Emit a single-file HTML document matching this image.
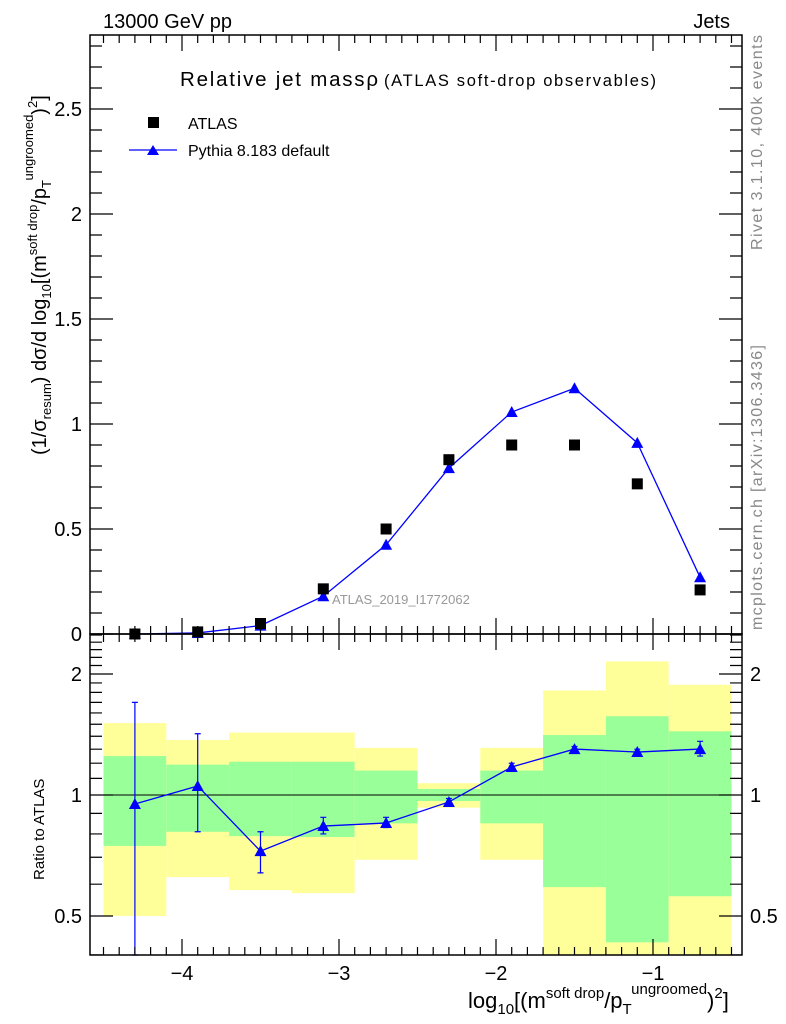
<!DOCTYPE html>
<html><head><meta charset="utf-8"><style>
body{margin:0;background:#fff}
svg{display:block;font-family:"Liberation Sans",sans-serif}
</style></head><body>
<svg id="c" width="786" height="1024" viewBox="0 0 786 1024">
<g id="bands"></g>
<g id="marks"></g>
<g id="axes"></g>
<text x="103" y="28" font-size="20">13000 GeV pp</text>
<text x="730" y="28" font-size="20" text-anchor="end">Jets</text>
<text x="180" y="86" font-size="20.5" textLength="198">Relative jet massρ</text>
<text x="384" y="86" font-size="16.5" textLength="272">(ATLAS soft-drop observables)</text>
<rect x="148" y="117" width="11" height="11" fill="#000"/>
<text x="188" y="129" font-size="16">ATLAS</text>
<line x1="129" y1="150" x2="177" y2="150" stroke="#00f" stroke-width="1.3"/>
<path d="M147,155 L153,145 L159,155 Z" fill="#00f"/>
<text x="188" y="156" font-size="16">Pythia 8.183 default</text>
<text x="332" y="604" font-size="13" fill="#999">ATLAS_2019_I1772062</text>
<text transform="translate(762,250) rotate(-90)" font-size="16" fill="#888" textLength="215">Rivet 3.1.10,  400k events</text>
<text transform="translate(762,630) rotate(-90)" font-size="16" fill="#888" textLength="285">mcplots.cern.ch [arXiv:1306.3436]</text>
<text transform="translate(46,455) rotate(-90)" font-size="20">(1/σ<tspan font-size="13" dy="5">resum</tspan><tspan dy="-5">) dσ/d log</tspan><tspan font-size="13" dy="5">10</tspan><tspan dy="-5">[(m</tspan><tspan font-size="13" dy="-9">soft drop</tspan><tspan dy="9">/p</tspan><tspan font-size="13" dy="5">T</tspan><tspan font-size="13" dy="-18">ungroomed</tspan><tspan dy="13">)</tspan><tspan font-size="13" dy="-9">2</tspan><tspan dy="9">]</tspan></text>
<text transform="translate(44,880) rotate(-90)" font-size="15">Ratio to ATLAS</text>
<text x="468" y="1008" font-size="22">log<tspan font-size="15" dy="6">10</tspan><tspan dy="-6">[(m</tspan><tspan font-size="15" dy="-10">soft drop</tspan><tspan dy="10">/p</tspan><tspan font-size="15" dy="6">T</tspan><tspan font-size="15" dy="-20">ungroomed</tspan><tspan dy="14">)</tspan><tspan font-size="15" dy="-10">2</tspan><tspan dy="10">]</tspan></text>
</svg>
<script>
const binLo=[-4.5,-4.1,-3.7,-3.3,-2.9,-2.5,-2.1,-1.7,-1.3,-0.9];
const binHi=[-4.1,-3.7,-3.3,-2.9,-2.5,-2.1,-1.7,-1.3,-0.9,-0.5];
const xCenters=[-4.3,-3.9,-3.5,-3.1,-2.7,-2.3,-1.9,-1.5,-1.1,-0.7];
const atlasVals=[0.0,0.01,0.05,0.215,0.50,0.83,0.90,0.90,0.715,0.21];
const pythiaVals=[0.0,0.005,0.04,0.18,0.425,0.79,1.057,1.17,0.91,0.27];
const pythiaErr=[0.002,0.003,0.004,0.008,0.01,0.012,0.015,0.015,0.015,0.01];
const ratioVals=[0.95,1.053,0.725,0.837,0.852,0.961,1.174,1.301,1.279,1.301];
const ratioLo=[0.33,0.81,0.64,0.80,0.83,0.94,1.15,1.28,1.26,1.25];
const ratioHi=[1.70,1.42,0.81,0.88,0.88,0.98,1.20,1.32,1.30,1.36];
const yelHi=[1.51,1.37,1.43,1.43,1.31,1.07,1.31,1.82,2.15,1.88];
const yelLo=[0.50,0.625,0.58,0.57,0.69,0.93,0.69,0.30,0.30,0.30];
const grnHi=[1.25,1.19,1.21,1.21,1.15,1.035,1.15,1.41,1.57,1.44];
const grnLo=[0.747,0.81,0.79,0.786,0.85,0.966,0.85,0.59,0.43,0.56];
const yTicks=[0,0.5,1,1.5,2,2.5];
const yTickLabels=["0","0.5","1","1.5","2","2.5"];
const xTicks=[-4,-3,-2,-1];
const xTickLabels=["−4","−3","−2","−1"];
const rTicks=[0.5,1,2];
const rTickLabels=["0.5","1","2"];

const L=90,R=742,T=35,MB=634,RB=955;
const X=v=>182+(v+4)*157;
const Y=v=>MB-v*210;
const RY=r=>Math.max(T,Math.min(RB,795-121*Math.log2(r)));
const NS="http://www.w3.org/2000/svg";
function mk(p,t,a){const e=document.createElementNS(NS,t);for(const k in a)e.setAttribute(k,a[k]);p.appendChild(e);return e;}
const bands=document.getElementById('bands'),marks=document.getElementById('marks'),axes=document.getElementById('axes');
for(let i=0;i<binLo.length;i++){
  let e=mk(bands,'rect',{x:X(binLo[i]),y:RY(yelHi[i]),width:X(binHi[i])-X(binLo[i]),height:RY(yelLo[i])-RY(yelHi[i]),fill:'#ffff99'});
  
  
  e=mk(bands,'rect',{x:X(binLo[i]),y:RY(grnHi[i]),width:X(binHi[i])-X(binLo[i]),height:RY(grnLo[i])-RY(grnHi[i]),fill:'#99ff99'});
  
  
}
let l=mk(marks,'line',{x1:L,x2:R,y1:RY(1),y2:RY(1),stroke:'#000','stroke-width':1});


function tri(p,x,y,name){const e=mk(p,'path',{d:`M${x-6},${y+5} L${x},${y-6} L${x+6},${y+5} Z`,fill:'#00f'});}
let pl=mk(marks,'polyline',{points:xCenters.map((x,i)=>X(x)+','+Y(pythiaVals[i])).join(' '),fill:'none',stroke:'#00f','stroke-width':1.3});


for(let i=0;i<xCenters.length;i++){
  const x=X(xCenters[i]);
  const eb=mk(marks,'line',{x1:x,x2:x,y1:Y(pythiaVals[i]-pythiaErr[i]),y2:Y(pythiaVals[i]+pythiaErr[i]),stroke:'#00f','stroke-width':1.3});
  
  
  tri(marks,x,Y(pythiaVals[i]),'pythia-point');
  const s=mk(marks,'rect',{x:x-5.5,y:Y(atlasVals[i])-5.5,width:11,height:11,fill:'#000'});
  
  
}
pl=mk(marks,'polyline',{points:xCenters.map((x,i)=>X(x)+','+RY(ratioVals[i])).join(' '),fill:'none',stroke:'#00f','stroke-width':1.3});


for(let i=0;i<xCenters.length;i++){
  const x=X(xCenters[i]);
  const eb=mk(marks,'path',{d:`M${x},${RY(ratioLo[i])}V${RY(ratioHi[i])}M${x-3},${RY(ratioLo[i])}h6M${x-3},${RY(ratioHi[i])}h6`,stroke:'#00f','stroke-width':1.2,fill:'none'});
  
  
  tri(marks,x,RY(ratioVals[i]),'ratio-point');
}
for(const [y1,y2,n] of [[T,MB,'main-frame'],[MB,RB,'ratio-frame']]){
  const f=mk(axes,'rect',{x:L,y:y1,width:R-L,height:y2-y1,fill:'none',stroke:'#000','stroke-width':1.5});
  
  
}
let d='';
for(let v=-4.5;v<=-0.45;v+=0.1){const x=X(v);if(x<L||x>R)continue;const maj=Math.abs(v-Math.round(v))<0.01;const len=maj?16:8;
  d+=`M${x},${T}v${len}M${x},${MB}v${-len}M${x},${MB}v${len}M${x},${RB}v${-len}`;}
for(let v=0;v<=2.85;v+=0.1){const y=Y(v);const maj=Math.abs(v*2-Math.round(v*2))<0.01;const len=maj?23:12;d+=`M${L},${y}h${len}M${R},${y}h${-len}`;}
for(const v of [0.4,0.5,0.6,0.7,0.8,0.9,1,1.1,1.2,1.3,1.4,1.5,1.6,1.7,1.8,1.9,2,2.1,2.2,2.3,2.4,2.5]){const y=795-121*Math.log2(v);if(y<T||y>RB)continue;const maj=rTicks.includes(v);const len=maj?23:12;d+=`M${L},${y}h${len}M${R},${y}h${-len}`;}
const tk=mk(axes,'path',{d:d,stroke:'#000','stroke-width':1.2,fill:'none'});


yTicks.forEach((v,i)=>{const t=mk(axes,'text',{x:82,y:Y(v)+7,'font-size':20,'text-anchor':'end'});t.textContent=yTickLabels[i];
  
  });
xTicks.forEach((v,i)=>{const t=mk(axes,'text',{x:X(v),y:980,'font-size':20,'text-anchor':'middle'});t.textContent=xTickLabels[i];
  
  });
rTicks.forEach((v,i)=>{const y=RY(v)+7;
  let t=mk(axes,'text',{x:82,y:y,'font-size':20,'text-anchor':'end'});t.textContent=rTickLabels[i];
  
  
  t=mk(axes,'text',{x:750,y:y,'font-size':20});t.textContent=rTickLabels[i];
  
  });
</script>
</body></html>
